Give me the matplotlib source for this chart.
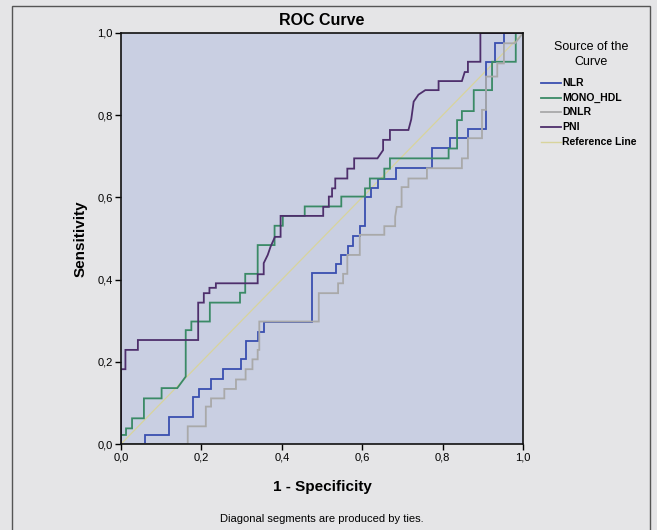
import matplotlib
matplotlib.use("Agg")
import matplotlib.pyplot as plt
from matplotlib.lines import Line2D
from matplotlib.patches import Rectangle

# ---- data (1 - specificity, sensitivity) ----
nlr_fpr = [0, 0.06, 0.06, 0.119, 0.119, 0.179, 0.179, 0.193, 0.193, 0.223, 0.223, 0.2525, 0.2525,
           0.298, 0.298, 0.311, 0.311, 0.34, 0.34, 0.355, 0.355, 0.475, 0.475, 0.536, 0.536, 0.548,
           0.548, 0.564, 0.564, 0.5775, 0.5775, 0.594, 0.594, 0.607, 0.607, 0.621, 0.621, 0.64, 0.64,
           0.684, 0.684, 0.773, 0.773, 0.819, 0.819, 0.863, 0.863, 0.908, 0.908, 0.93, 0.93, 0.9525,
           0.9525, 1.0]
nlr_tpr = [0, 0, 0.022, 0.022, 0.066, 0.066, 0.115, 0.115, 0.134, 0.134, 0.158, 0.158, 0.183,
           0.183, 0.206, 0.206, 0.251, 0.251, 0.273, 0.273, 0.298, 0.298, 0.415, 0.415, 0.437, 0.437,
           0.459, 0.459, 0.482, 0.482, 0.507, 0.507, 0.531, 0.531, 0.602, 0.602, 0.624, 0.624, 0.644,
           0.644, 0.671, 0.671, 0.719, 0.719, 0.744, 0.744, 0.766, 0.766, 0.93, 0.93, 0.975, 0.975,
           1.0, 1.0]

mono_fpr = [0, 0, 0.0125, 0.0125, 0.0275, 0.0275, 0.057, 0.057, 0.101, 0.101, 0.14, 0.161, 0.161,
            0.175, 0.175, 0.221, 0.221, 0.296, 0.296, 0.309, 0.309, 0.34, 0.34, 0.382, 0.382, 0.4025,
            0.4025, 0.457, 0.457, 0.548, 0.548, 0.607, 0.607, 0.619, 0.619, 0.655, 0.655, 0.669,
            0.669, 0.815, 0.815, 0.836, 0.836, 0.848, 0.848, 0.8775, 0.8775, 0.923, 0.923, 0.982,
            0.982, 1.0]
mono_tpr = [0, 0.022, 0.022, 0.038, 0.038, 0.0625, 0.0625, 0.111, 0.111, 0.136, 0.136, 0.164, 0.277,
            0.277, 0.298, 0.298, 0.344, 0.344, 0.368, 0.368, 0.414, 0.414, 0.484, 0.484, 0.531, 0.531,
            0.555, 0.555, 0.578, 0.578, 0.602, 0.602, 0.622, 0.622, 0.646, 0.646, 0.67, 0.67,
            0.695, 0.695, 0.719, 0.719, 0.788, 0.788, 0.81, 0.81, 0.861, 0.861, 0.93, 0.93,
            1.0, 1.0]

dnlr_fpr = [0, 0.166, 0.166, 0.211, 0.211, 0.224, 0.224, 0.257, 0.257, 0.286, 0.286, 0.31, 0.31,
            0.327, 0.327, 0.34, 0.34, 0.344, 0.344, 0.492, 0.492, 0.54, 0.54, 0.5525, 0.5525, 0.563,
            0.563, 0.594, 0.594, 0.655, 0.655, 0.682, 0.682, 0.686, 0.698, 0.698, 0.715, 0.715, 0.761,
            0.761, 0.848, 0.848, 0.863, 0.863, 0.898, 0.898, 0.908, 0.908, 0.936, 0.936, 0.9525,
            0.9525, 0.98, 1.0]
dnlr_tpr = [0, 0, 0.043, 0.043, 0.091, 0.091, 0.111, 0.111, 0.134, 0.134, 0.157, 0.157, 0.182,
            0.182, 0.206, 0.206, 0.229, 0.229, 0.298, 0.298, 0.367, 0.367, 0.391, 0.391, 0.414, 0.414,
            0.46, 0.46, 0.509, 0.509, 0.53, 0.53, 0.553, 0.577, 0.577, 0.625, 0.625, 0.646, 0.646,
            0.671, 0.671, 0.695, 0.695, 0.744, 0.744, 0.813, 0.813, 0.894, 0.894, 0.926, 0.926,
            0.975, 0.975, 1.0]

pni_fpr = [0, 0, 0.011, 0.011, 0.042, 0.042, 0.192, 0.192, 0.206, 0.206, 0.22, 0.22, 0.236, 0.236,
           0.34, 0.34, 0.355, 0.355, 0.365, 0.372, 0.383, 0.397, 0.397, 0.503, 0.503, 0.517, 0.517,
           0.525, 0.525, 0.533, 0.533, 0.563, 0.563, 0.58, 0.58, 0.638, 0.652, 0.652, 0.669, 0.669,
           0.715, 0.722, 0.728, 0.74, 0.757, 0.79, 0.79, 0.848, 0.855, 0.863, 0.863, 0.894, 0.894,
           1.0]
pni_tpr = [0, 0.182, 0.182, 0.229, 0.229, 0.253, 0.253, 0.344, 0.344, 0.367, 0.367, 0.38, 0.38,
           0.391, 0.391, 0.413, 0.413, 0.44, 0.46, 0.48, 0.504, 0.504, 0.555, 0.555, 0.577, 0.577,
           0.602, 0.602, 0.622, 0.622, 0.646, 0.646, 0.67, 0.67, 0.695, 0.695, 0.715, 0.74, 0.74,
           0.764, 0.764, 0.79, 0.833, 0.85, 0.861, 0.861, 0.883, 0.883, 0.905, 0.905, 0.93, 0.93,
           1.0, 1.0]

ref_x = [0, 1]
ref_y = [0, 1]

series_names = ["NLR", "MONO_HDL", "DNLR", "PNI", "Reference Line"]
series_colors = ["#3a4fb0", "#3a8a66", "#a9a9a9", "#4e2f6c", "#d8d49c"]
tick_vals = [0.0, 0.2, 0.4, 0.6, 0.8, 1.0]
tick_labels = ["0,0", "0,2", "0,4", "0,6", "0,8", "1,0"]

# ---- figure ----
W, H = 657, 530
fig = plt.figure(figsize=(W / 100, H / 100), dpi=100)
fig.patch.set_facecolor("#e5e5e7")
plt.rcParams["font.family"] = ["Liberation Sans", "DejaVu Sans"]

# outer frame
fig.patches.append(Rectangle((12 / W, -0.05), (650 - 12) / W, 1.05 - 6 / H,
                             transform=fig.transFigure, fill=False,
                             edgecolor="#555555", linewidth=1.0))

x0, x1, ytop, ybot = 121, 523, 33, 444
ax = fig.add_axes([x0 / W, 1 - ybot / H, (x1 - x0) / W, (ybot - ytop) / H])
ax.set_facecolor("#c9cfe2")

curves = [(nlr_fpr, nlr_tpr), (mono_fpr, mono_tpr), (dnlr_fpr, dnlr_tpr), (pni_fpr, pni_tpr)]
ax.plot(ref_x, ref_y, color=series_colors[4], lw=0.9, zorder=1)
for (fx, ty), c in zip(curves, series_colors[:4]):
    ax.plot(fx, ty, color=c, lw=1.3, zorder=2, solid_joinstyle="miter")

ax.set_xlim(0, 1)
ax.set_ylim(0, 1)
ax.set_xticks(tick_vals)
ax.set_xticklabels(tick_labels)
ax.set_yticks(tick_vals)
ax.set_yticklabels(tick_labels)
ax.tick_params(direction="out", length=4, width=1.0, labelsize=8, colors="black", pad=2)
for s in ax.spines.values():
    s.set_linewidth(1.2)
    s.set_color("#111111")

ax.set_title("ROC Curve", fontsize=11.5, fontweight="bold", pad=6)
ax.set_xlabel("1 - Specificity", fontsize=11, fontweight="bold", labelpad=13)
ax.set_ylabel("Sensitivity", fontsize=11, fontweight="bold", labelpad=7)

fig.text(322 / W, 1 - 519 / H, "Diagonal segments are produced by ties.",
         ha="center", va="center", fontsize=8)

# legend
fig.text(591 / W, 1 - 47 / H, "Source of the", ha="center", va="center", fontsize=9)
fig.text(591 / W, 1 - 62 / H, "Curve", ha="center", va="center", fontsize=9)
ys = [83, 98, 112, 127, 142]
for name, c, yy in zip(series_names, series_colors, ys):
    fy = 1 - yy / H
    fig.add_artist(Line2D([541 / W, 561 / W], [fy, fy], color=c,
                          lw=1.3 if name != "Reference Line" else 1.0,
                          transform=fig.transFigure))
    fig.text(562 / W, fy, name, ha="left", va="center", fontsize=7.5,
             fontweight="bold", family=["Liberation Sans Narrow", "Liberation Sans", "DejaVu Sans"])

fig.savefig("out.png", dpi=100, facecolor=fig.get_facecolor())
